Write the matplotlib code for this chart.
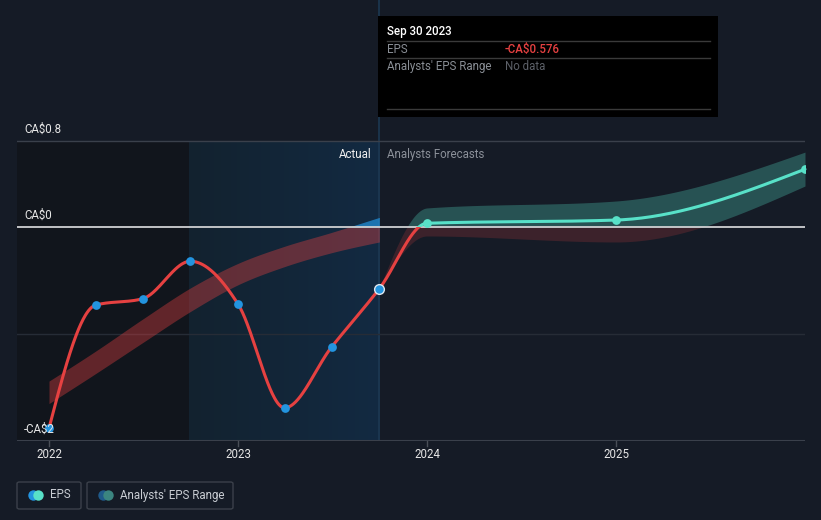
import datetime as dt

import numpy as np
import matplotlib

matplotlib.use("Agg")
import matplotlib.pyplot as plt
from matplotlib.lines import Line2D
from matplotlib.patches import FancyBboxPatch, Rectangle

plt.rcParams["font.family"] = ["Roboto", "DejaVu Sans"]

# --- data ------------------------------------------------------------------
eps_dates = ["2021-12-31", "2022-03-31", "2022-06-30", "2022-09-30",
             "2022-12-31", "2023-03-31", "2023-06-30", "2023-09-30"]
eps_values = [-1.88, -0.73, -0.67, -0.32, -0.72, -1.69, -1.12, -0.576]

past_band_upper = [-1.44, -1.16, -0.86, -0.57, -0.34, -0.18, -0.05, 0.09]
past_band_lower = [-1.65, -1.37, -1.08, -0.79, -0.54, -0.37, -0.24, -0.14]

forecast_dates = ["2023-12-31", "2024-12-31", "2025-12-31"]
forecast_values = [0.035, 0.065, 0.54]

fc_band_dates = ["2023-09-30", "2023-12-31", "2024-12-31", "2025-12-31"]
fc_band_upper = [-0.576, 0.178, 0.243, 0.70]
fc_band_lower = [-0.576, -0.084, -0.14, 0.383]

y_ticks = [0.8, 0.0, -2.0]
y_tick_labels = ["CA$0.8", "CA$0", "-CA$2"]
x_ticks = [2022, 2023, 2024, 2025]

BG = "#151b26"
RED = "#e64141"
BLUE = "#2394df"
TEAL = "#58e1c8"
W, H = 821, 520


def year_frac(s):
    d = dt.date.fromisoformat(s)
    start = dt.date(d.year, 1, 1)
    days = (dt.date(d.year + 1, 1, 1) - start).days
    return d.year + ((d - start).days + 1) / days


def monotone(xs, ys, n=60):
    """Monotone cubic path through the points (same idea as d3 curveMonotoneX)."""
    x = np.asarray(xs, float)
    y = np.asarray(ys, float)
    h = np.diff(x)
    s = np.diff(y) / h
    m = np.zeros_like(y)
    for i in range(1, len(y) - 1):
        p = (s[i - 1] * h[i] + s[i] * h[i - 1]) / (h[i - 1] + h[i])
        m[i] = (np.sign(s[i - 1]) + np.sign(s[i])) * min(abs(s[i - 1]), abs(s[i]), 0.5 * abs(p))
    m[0] = (3 * s[0] - m[1]) / 2 if len(y) > 2 else s[0]
    m[-1] = (3 * s[-1] - m[-2]) / 2 if len(y) > 2 else s[-1]
    out_x, out_y = [], []
    for i in range(len(h)):
        t = np.linspace(0, 1, n, endpoint=(i == len(h) - 1))
        h00 = 2 * t**3 - 3 * t**2 + 1
        h10 = t**3 - 2 * t**2 + t
        h01 = -2 * t**3 + 3 * t**2
        h11 = t**3 - t**2
        out_x.append(x[i] + t * h[i])
        out_y.append(h00 * y[i] + h10 * h[i] * m[i] + h01 * y[i + 1] + h11 * h[i] * m[i + 1])
    return np.concatenate(out_x), np.concatenate(out_y)


def px(x, y):
    return x / W, 1 - y / H


def sign_band(ax, x, lo, hi, pos_color, pos_alpha, neg_color, neg_alpha):
    ax.fill_between(x, np.maximum(lo, 0), np.maximum(hi, 0), color=pos_color,
                    alpha=pos_alpha, lw=0, zorder=3)
    ax.fill_between(x, np.minimum(lo, 0), np.minimum(hi, 0), color=neg_color,
                    alpha=neg_alpha, lw=0, zorder=3)


eps_x = [year_frac(d) for d in eps_dates]
fc_x = [year_frac(d) for d in forecast_dates]
fcb_x = [year_frac(d) for d in fc_band_dates]

fig = plt.figure(figsize=(W / 100, H / 100), dpi=100)
fig.patch.set_facecolor(BG)

x_left = 2022 + (17 - 49) / 189
x_right = 2022 + (805 - 49) / 189
ax = fig.add_axes([17 / W, (H - 441) / H, (805 - 17) / W, 441 / H])
ax.set_facecolor(BG)
ax.set_xlim(x_left, x_right)
ax.set_ylim(-2, -2 + 441 / 107)
ax.axis("off")

# shaded history regions
split = 2022 + (189 - 49) / 189
today = eps_x[-1]
ax.add_patch(Rectangle((x_left, -2), split - x_left, 2.8, color="#11151c", lw=0, zorder=1))
grad = np.linspace(0, 1, 64)[None, :]
cmap = matplotlib.colors.LinearSegmentedColormap.from_list("hist", ["#13222f", "#122a42"])
ax.imshow(grad, extent=(split, today, -2, 0.8), aspect="auto", cmap=cmap, zorder=1)
ax.axvline(today, color="#1c3852", lw=1.2, zorder=2)

# grid lines
ax.axhline(0.8, color="#3a404b", lw=1, zorder=2)
ax.axhline(-1, color="#262c36", lw=1, zorder=2)
ax.axhline(-2, color="#3a404b", lw=1.5, zorder=2)

# analyst bands
bx, bu = monotone(eps_x, past_band_upper)
_, bl = monotone(eps_x, past_band_lower)
sign_band(ax, bx, bl, bu, BLUE, 0.7, RED, 0.38)
fx, fu = monotone(fcb_x, fc_band_upper)
_, fl = monotone(fcb_x, fc_band_lower)
sign_band(ax, fx, fl, fu, TEAL, 0.28, RED, 0.19)

ax.axhline(0, color="#cfd0d2", lw=1.3, zorder=4)

# EPS line, red below zero and teal above
lx, ly = monotone(eps_x + fc_x, eps_values + forecast_values)
for color, y0, hgt in [(RED, -5, 5), (TEAL, 0, 5)]:
    line, = ax.plot(lx, ly, color=color, lw=2.2, zorder=5, solid_capstyle="round")
    line.set_clip_path(Rectangle((x_left - 1, y0), 10, hgt, transform=ax.transData))

ax.plot(eps_x[:-1], eps_values[:-1], "o", color=BLUE, ms=6.3, mew=0, zorder=6)
ax.plot(eps_x[-1], eps_values[-1], "o", color=BLUE, ms=7, mec="#dfe8f0", mew=1, zorder=6)
ax.plot(fc_x, forecast_values, "o", color=TEAL, ms=6.3, mew=0, zorder=6)

# axis labels
for val, lab in zip(y_ticks, y_tick_labels):
    ax.text(x_left + 7 / 189, val + 12 / 107, lab, color="#e6e6e6", fontsize=8.3,
            va="center", ha="left", zorder=7)
for yr in x_ticks:
    ax.plot([yr, yr], [-2, -2 - 5 / 107], color="#4a4f58", lw=1, clip_on=False)
    fig.text(*px(49 + (yr - 2022) * 189, 455), str(yr), color="#e6e6e6", fontsize=8.3,
             ha="center", va="center")

ax.text(today - 8 / 189, 0.8 - 13 / 107, "Actual", color="#f0f0f0", fontsize=8.3,
        ha="right", va="center", zorder=7)
ax.text(today + 8 / 189, 0.8 - 13 / 107, "Analysts Forecasts", color="#8c919a",
        fontsize=8.3, ha="left", va="center", zorder=7)

# tooltip
x0, y0 = px(378, 117)
x1, y1 = px(718, 16)
fig.add_artist(Rectangle((x0, y0), x1 - x0, y1 - y0, transform=fig.transFigure,
                         color="#000000", lw=0, zorder=10))
for yy in (41, 58, 109):
    a, b = px(387, yy)
    c, _ = px(710, yy)
    fig.add_artist(Line2D([a, c], [b, b], transform=fig.transFigure, color="#3a3a3a",
                          lw=1, zorder=11))
fig.text(*px(387, 31), "Sep 30 2023", color="#ffffff", fontsize=8.3, fontweight="medium",
         va="center", zorder=12)
fig.text(*px(387, 49.5), "EPS", color="#8a8f96", fontsize=8.3, va="center", zorder=12)
fig.text(*px(505, 49.5), "-CA$0.576", color=RED, fontsize=8.3, fontweight="medium",
         va="center", zorder=12)
fig.text(*px(387, 66.5), "Analysts' EPS Range", color="#8a8f96", fontsize=8.3,
         va="center", zorder=12)
fig.text(*px(505, 66.5), "No data", color="#5c6068", fontsize=8.3, va="center", zorder=12)

# legend
legend_items = [("EPS", 17, 81, BLUE, TEAL), ("Analysts' EPS Range", 87, 233, "#1f5a8a", "#3b8580")]
for label, bx0, bx1, c1, c2 in legend_items:
    a, b = px(bx0, 509)
    c, d = px(bx1, 482)
    fig.add_artist(FancyBboxPatch((a, b), c - a, d - b, boxstyle="round,pad=0,rounding_size=0.003",
                                  transform=fig.transFigure, fc="none", ec="#3b404a", lw=1))
    for dx, col in ((16, c1), (21, c2)):
        fig.add_artist(Line2D([px(bx0 + dx, 495)[0]], [px(bx0 + dx, 495)[1]], marker="o",
                              ms=7.5, mew=0, color=col, transform=fig.transFigure))
    fig.text(*px(bx0 + 33, 495), label, color="#c9cdd3", fontsize=8.3, va="center")

fig.savefig("out.png", dpi=100, facecolor=BG)
